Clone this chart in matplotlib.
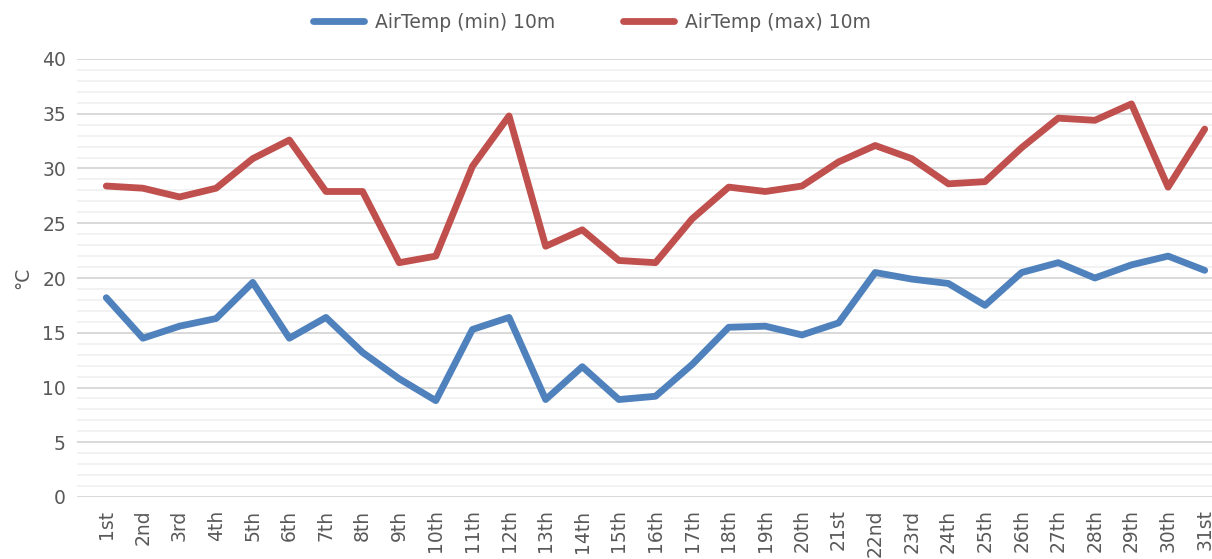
import numpy as np
import matplotlib.pyplot as plt
from matplotlib.ticker import MultipleLocator

# Day labels
days = ["1st", "2nd", "3rd", "4th", "5th", "6th", "7th", "8th", "9th", "10th",
        "11th", "12th", "13th", "14th", "15th", "16th", "17th", "18th", "19th", "20th",
        "21st", "22nd", "23rd", "24th", "25th", "26th", "27th", "28th", "29th", "30th", "31st"]

t_min = [18.2, 14.5, 15.6, 16.3, 19.6, 14.5, 16.4, 13.2, 10.8, 8.8,
         15.3, 16.4, 8.9, 11.9, 8.9, 9.2, 12.1, 15.5, 15.6, 14.8,
         15.9, 20.5, 19.9, 19.5, 17.5, 20.5, 21.4, 20.0, 21.2, 22.0, 20.7]

t_max = [28.4, 28.2, 27.4, 28.2, 30.9, 32.6, 27.9, 27.9, 21.4, 22.0,
         30.2, 34.8, 22.9, 24.4, 21.6, 21.4, 25.4, 28.3, 27.9, 28.4,
         30.6, 32.1, 30.9, 28.6, 28.8, 31.9, 34.6, 34.4, 35.9, 28.3, 33.6]

W, H = 1212, 559
fig = plt.figure(figsize=(W / 100, H / 100), dpi=100)
ax = fig.add_axes([77 / W, 1 - 497 / H, (1223 - 77) / W, (497 - 59) / H])

x = np.arange(len(days))
ax.plot(x, t_min, color="#4F81BD", lw=4.9, solid_joinstyle="round", solid_capstyle="round",
        label="AirTemp (min) 10m", zorder=3)
ax.plot(x, t_max, color="#C0504D", lw=4.9, solid_joinstyle="round", solid_capstyle="round",
        label="AirTemp (max) 10m", zorder=3)

ax.set_xlim(-0.8, len(days) - 0.5)
ax.set_ylim(0, 40)
ax.yaxis.set_major_locator(MultipleLocator(5))
ax.yaxis.set_minor_locator(MultipleLocator(1))
ax.grid(which="major", axis="y", color="#D9D9D9", lw=1.4)
ax.grid(which="minor", axis="y", color="#F2F2F2", lw=1.4)
ax.set_axisbelow(True)
for s in ax.spines.values():
    s.set_visible(False)

ax.set_xticks(x)
ax.set_xticklabels(days, rotation=90, fontsize=13.5, color="#595959")
ax.tick_params(axis="both", length=0, labelsize=13.5, labelcolor="#595959")
ax.tick_params(axis="y", which="both", pad=8, length=0)
ax.tick_params(axis="x", pad=9)
ax.set_ylabel("°C", fontsize=13.5, color="#595959", labelpad=7)

fig.legend(loc="center", bbox_to_anchor=(592 / W, 1 - 22 / H), ncol=2, frameon=False,
           fontsize=13.5, labelcolor="#595959", handlelength=2.7, handletextpad=0.6,
           columnspacing=3.6)

fig.savefig("out.png", dpi=100)
